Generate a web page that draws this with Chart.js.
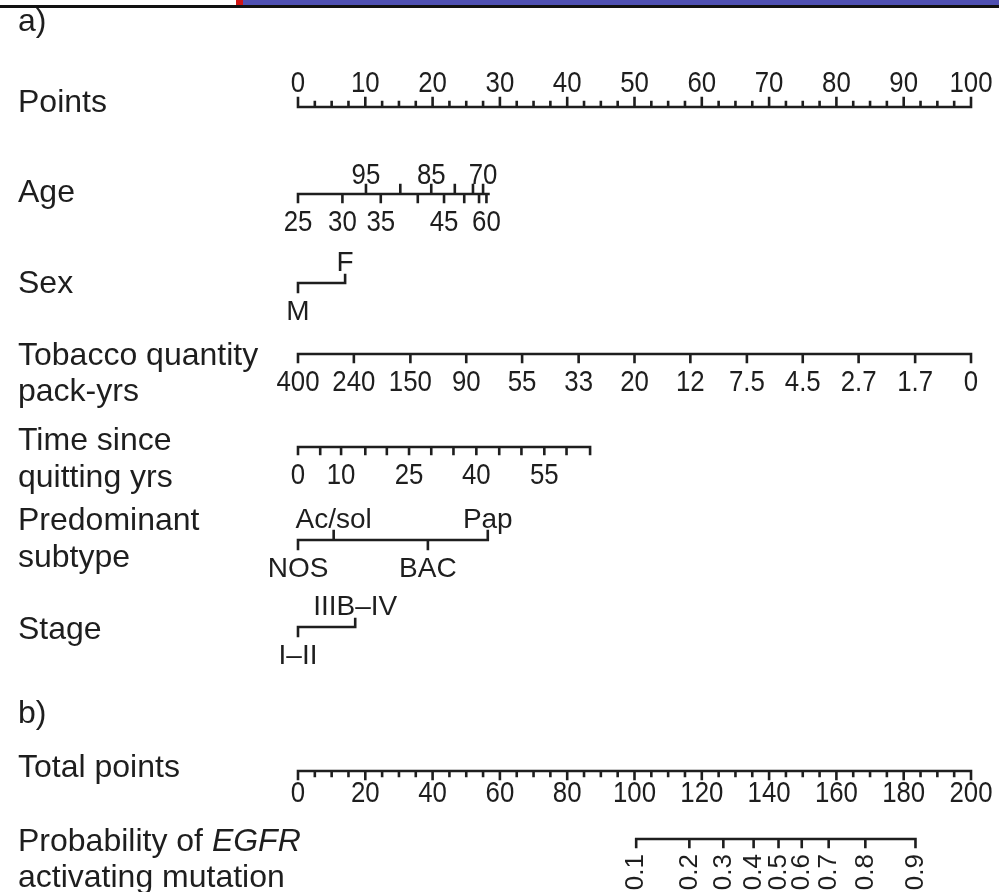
<!DOCTYPE html>
<html>
<head>
<meta charset="utf-8">
<title>EGFR nomogram</title>
<script src="https://cdn.jsdelivr.net/npm/chart.js@4.4.1/dist/chart.umd.min.js"></script>
<style>
  html, body { margin: 0; padding: 0; background: #fff; }
  canvas { display: block; }
</style>
</head>
<body>
<canvas id="nomo" width="999" height="892"></canvas>
<script>
// ---- nomogram values: level of each predictor -> points ----
const pointsLabels = [0, 10, 20, 30, 40, 50, 60, 70, 80, 90, 100];

const ageLowAges    = [25, 30, 35, 40, 45, 50, 55, 60];
const ageLowPoints  = [0, 6.6, 12.3, 17.8, 21.7, 24.7, 26.9, 28.0];
const ageLowShown   = ['25', '30', '35', '', '45', '', '', '60'];
const ageHighAges   = [95, 90, 85, 80, 75, 70];
const ageHighPoints = [10.1, 15.2, 19.8, 23.3, 26.0, 27.5];
const ageHighShown  = ['95', '', '85', '', '', '70'];
const ageMaxPoints  = 28.3;

const sexLevels = ['M', 'F'];
const sexPoints = [0, 7.0];

const tobaccoLabels = ['400', '240', '150', '90', '55', '33', '20', '12', '7.5', '4.5', '2.7', '1.7', '0'];
const tobaccoPoints = [0, 8.3, 16.7, 25, 33.3, 41.7, 50, 58.3, 66.7, 75, 83.3, 91.7, 100];

const quitYears  = [0, 5, 10, 15, 20, 25, 30, 35, 40, 45, 50, 55, 60, 65];
const quitPoints = [0, 3.3, 6.4, 10.0, 13.2, 16.5, 19.8, 23.1, 26.5, 29.9, 33.2, 36.6, 39.9, 43.4];
const quitShown  = ['0', '', '10', '', '', '25', '', '', '40', '', '', '55', '', ''];

const subtypeLevels = ['NOS', 'Ac/sol', 'BAC', 'Pap'];
const subtypePoints = [0, 5.3, 19.3, 28.2];

const stageLevels = ['I\u2013II', 'IIIB\u2013IV'];
const stagePoints = [0, 8.5];

const totalLabels = [0, 20, 40, 60, 80, 100, 120, 140, 160, 180, 200];

const probLabels      = ['0.1', '0.2', '0.3', '0.4', '0.5', '0.6', '0.7', '0.8', '0.9'];
const probTotalPoints = [100.5, 116.3, 126.4, 135.4, 142.8, 149.7, 157.7, 168.6, 183.5];

// ---- layout ----
const INK = '#1e1e1e';
const LINE_W = 2.6;
const SANS = '"Liberation Sans", Arial, sans-serif';
const rowY = { points: 107, age: 194, sex: 283, tobacco: 354, quit: 447, subtype: 540, stage: 627, total: 771, prob: 839 };

const pointsMinor = [];
for (let p = 2.5; p < 100; p += 2.5) if (p % 10) pointsMinor.push(p);
const totalMinor = [];
for (let p = 5; p < 200; p += 5) if (p % 20) totalMinor.push(p);

const UP = -1, DOWN = 1;
const tk = (at, dir, len) => at.map(p => ({ at: p, dir, len }));
const lb = (at, texts, side, kind) => at.map((p, i) => ({ at: p, text: String(texts[i]), side, kind }));

const rows = [
  { axis: 'x', y: rowY.points, from: 0, to: 100,
    ticks: [...tk(pointsLabels, UP, 9), ...tk(pointsMinor, UP, 5)],
    labels: lb(pointsLabels, pointsLabels, 'above', 'num'), aboveGap: 15 },
  { axis: 'x', y: rowY.age, from: 0, to: ageMaxPoints,
    ticks: [...tk(ageLowPoints, DOWN, 8), ...tk(ageHighPoints, UP, 9)],
    labels: [...lb(ageLowPoints, ageLowShown, 'below', 'num'), ...lb(ageHighPoints, ageHighShown, 'above', 'num')],
    aboveGap: 10 },
  { axis: 'x', y: rowY.sex, from: sexPoints[0], to: sexPoints[1],
    ticks: [...tk([sexPoints[0]], DOWN, 9), ...tk([sexPoints[1]], UP, 8)],
    labels: [...lb([sexPoints[0]], [sexLevels[0]], 'below', 'cat'), ...lb([sexPoints[1]], [sexLevels[1]], 'above', 'cat')] },
  { axis: 'x', y: rowY.tobacco, from: 0, to: 100,
    ticks: tk(tobaccoPoints, DOWN, 8),
    labels: lb(tobaccoPoints, tobaccoLabels, 'below', 'num') },
  { axis: 'x', y: rowY.quit, from: 0, to: quitPoints[quitPoints.length - 1],
    ticks: tk(quitPoints, DOWN, 7),
    labels: lb(quitPoints, quitShown, 'below', 'num') },
  { axis: 'x', y: rowY.subtype, from: 0, to: subtypePoints[3],
    ticks: subtypePoints.map((p, i) => ({ at: p, dir: i % 2 ? UP : DOWN, len: 9 })),
    labels: subtypePoints.map((p, i) => ({ at: p, text: subtypeLevels[i], side: i % 2 ? 'above' : 'below', kind: 'cat' })) },
  { axis: 'x', y: rowY.stage, from: 0, to: stagePoints[1],
    ticks: [...tk([stagePoints[0]], DOWN, 9), ...tk([stagePoints[1]], UP, 8)],
    labels: [...lb([stagePoints[0]], [stageLevels[0]], 'below', 'cat'), ...lb([stagePoints[1]], [stageLevels[1]], 'above', 'cat')] },
  { axis: 'xt', y: rowY.total, from: 0, to: 200,
    ticks: [...tk(totalLabels, DOWN, 8), ...tk(totalMinor, DOWN, 5)],
    labels: lb(totalLabels, totalLabels, 'below', 'num'), belowGap: 31 },
  { axis: 'xt', y: rowY.prob, from: probTotalPoints[0], to: probTotalPoints[probTotalPoints.length - 1],
    ticks: tk(probTotalPoints, DOWN, 8),
    labels: lb(probTotalPoints, probLabels, 'below', 'rot') }
];

const sideLabels = [
  { text: 'a)', y: 22 },
  { text: 'Points', y: 103 },
  { text: 'Age', y: 193 },
  { text: 'Sex', y: 284 },
  { text: 'Tobacco quantity', y: 356 },
  { text: 'pack-yrs', y: 392 },
  { text: 'Time since', y: 441 },
  { text: 'quitting yrs', y: 478 },
  { text: 'Predominant', y: 521 },
  { text: 'subtype', y: 558 },
  { text: 'Stage', y: 630 },
  { text: 'b)', y: 714 },
  { text: 'Total points', y: 768 },
  { parts: [['Probability of ', false], ['EGFR', true]], y: 842 },
  { text: 'activating mutation', y: 878 }
];

// each row becomes one line dataset: the axis segment followed by its ticks,
// separated by null points so the pieces are not joined
function rowDataset(row) {
  const y = row.y;
  const data = [{ x: row.from, y }, { x: row.to, y }, { x: row.to, y: null }];
  row.ticks.forEach(t => {
    data.push({ x: t.at, y }, { x: t.at, y: y + t.dir * t.len }, { x: t.at, y: null });
  });
  return {
    data,
    xAxisID: row.axis,
    yAxisID: 'y',
    showLine: true,
    spanGaps: false,
    borderColor: INK,
    borderWidth: LINE_W,
    borderCapStyle: 'square',
    pointRadius: 0,
    pointHoverRadius: 0,
    tension: 0,
    clip: false
  };
}

function put(ctx, text, x, y, size, opts = {}) {
  ctx.save();
  ctx.translate(x, y);
  if (opts.rotate) ctx.rotate(opts.rotate);
  ctx.scale(opts.sx || 1, 1);
  ctx.font = (opts.italic ? 'italic ' : '') + size + 'px ' + SANS;
  ctx.fillStyle = INK;
  ctx.textAlign = opts.align || 'center';
  ctx.textBaseline = opts.baseline || 'alphabetic';
  ctx.fillText(text, 0, 0);
  ctx.restore();
}

const nomogramText = {
  id: 'nomogramText',
  beforeDraw(chart) {
    const ctx = chart.ctx;
    ctx.save();
    ctx.fillStyle = '#ffffff';
    ctx.fillRect(0, 0, chart.width, chart.height);
    // page strip along the top edge
    ctx.fillStyle = '#4f50b2';
    ctx.fillRect(243, 0, chart.width - 243, 5);
    ctx.fillStyle = '#d01414';
    ctx.fillRect(236, 0, 7, 5);
    ctx.fillStyle = '#111111';
    ctx.fillRect(0, 5, chart.width, 3);
    ctx.restore();
  },
  afterDatasetsDraw(chart) {
    const ctx = chart.ctx;
    rows.forEach(row => {
      const sc = chart.scales[row.axis];
      row.labels.forEach(l => {
        if (!l.text) return;
        const x = sc.getPixelForValue(l.at);
        if (l.kind === 'rot') {
          put(ctx, l.text, x, row.y + 15, 26, { rotate: -Math.PI / 2, align: 'right', baseline: 'middle' });
          return;
        }
        const y = l.side === 'above' ? row.y - (row.aboveGap || 12) : row.y + (row.belowGap || 37);
        if (l.kind === 'num') put(ctx, l.text, x, y, 30, { sx: 0.86 });
        else put(ctx, l.text, x, y, 28);
      });
    });
    sideLabels.forEach(s => {
      if (s.parts) {
        let x = 18;
        s.parts.forEach(([t, it]) => {
          put(ctx, t, x, s.y, 32, { align: 'left', baseline: 'middle', italic: it });
          ctx.save();
          ctx.font = (it ? 'italic ' : '') + '32px ' + SANS;
          x += ctx.measureText(t).width;
          ctx.restore();
        });
      } else {
        put(ctx, s.text, 18, s.y, 32, { align: 'left', baseline: 'middle' });
      }
    });
  }
};

new Chart(document.getElementById('nomo').getContext('2d'), {
  type: 'scatter',
  data: { datasets: rows.map(rowDataset) },
  options: {
    responsive: false,
    animation: false,
    devicePixelRatio: 1,
    events: [],
    layout: { padding: { left: 298, right: 28, top: 0, bottom: 0 } },
    scales: {
      x:  { type: 'linear', axis: 'x', min: 0, max: 100, display: false },
      xt: { type: 'linear', axis: 'x', min: 0, max: 200, display: false },
      y:  { type: 'linear', min: 0, max: 892, reverse: true, display: false }
    },
    plugins: { legend: { display: false }, tooltip: { enabled: false } }
  },
  plugins: [nomogramText]
});
</script>
</body>
</html>
